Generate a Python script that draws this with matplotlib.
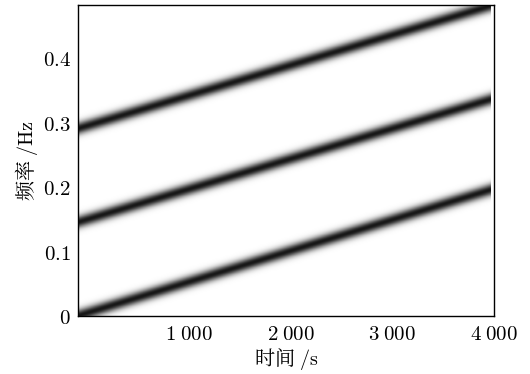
import numpy as np
import matplotlib.pyplot as plt

plt.rcParams['font.family'] = ['Noto Serif CJK SC', 'Noto Sans CJK SC', 'DejaVu Sans']
plt.rcParams['mathtext.fontset'] = 'cm'

# 时频脊线：起始频率与终止频率 (Hz)
t_range = [-90, 3965]
f_max = 0.482
start_freqs = [0.0, 0.145, 0.29]
end_freqs = [0.195, 0.335, 0.48]
ridge_width = 0.0095

xticks = [1000, 2000, 3000, 4000]
xtick_labels = [r'$1\;000$', r'$2\;000$', r'$3\;000$', r'$4\;000$']
yticks = [0, 0.1, 0.2, 0.3, 0.4]
ytick_labels = [r'$0$', r'$0.1$', r'$0.2$', r'$0.3$', r'$0.4$']

# 生成时频图
t = np.linspace(t_range[0], t_range[1], 600)
f = np.linspace(0, f_max, 400)
T, F = np.meshgrid(t, f)
tf = np.zeros_like(T)
for f0, f1 in zip(start_freqs, end_freqs):
    fc = f0 + (f1 - f0) * (T - t_range[0]) / (t_range[1] - t_range[0])
    tf += np.exp(-((F - fc) / ridge_width) ** 2)

fig = plt.figure(figsize=(5.3, 3.74), dpi=100)
ax = fig.add_axes([0.147, 0.155, 0.785, 0.832])
ax.imshow(tf, origin='lower', aspect='auto', cmap='gray_r', vmin=0, vmax=1.1,
          extent=[t_range[0], t_range[1], 0, f_max], interpolation='bilinear')
ax.set_xlim(t_range)
ax.set_ylim(0, f_max)
ax.set_xticks(xticks)
ax.set_xticklabels(xtick_labels, fontsize=15)
ax.set_yticks(yticks)
ax.set_yticklabels(ytick_labels, fontsize=15)
ax.tick_params(length=0, pad=5)
ax.set_xlabel(r'时间 $/\mathrm{s}$', fontsize=14.5, labelpad=1)
ax.set_ylabel(r'频率 $/\mathrm{Hz}$', fontsize=14.5, labelpad=2)
for s in ax.spines.values():
    s.set_linewidth(1.0)

plt.savefig('out.png', dpi=100)
